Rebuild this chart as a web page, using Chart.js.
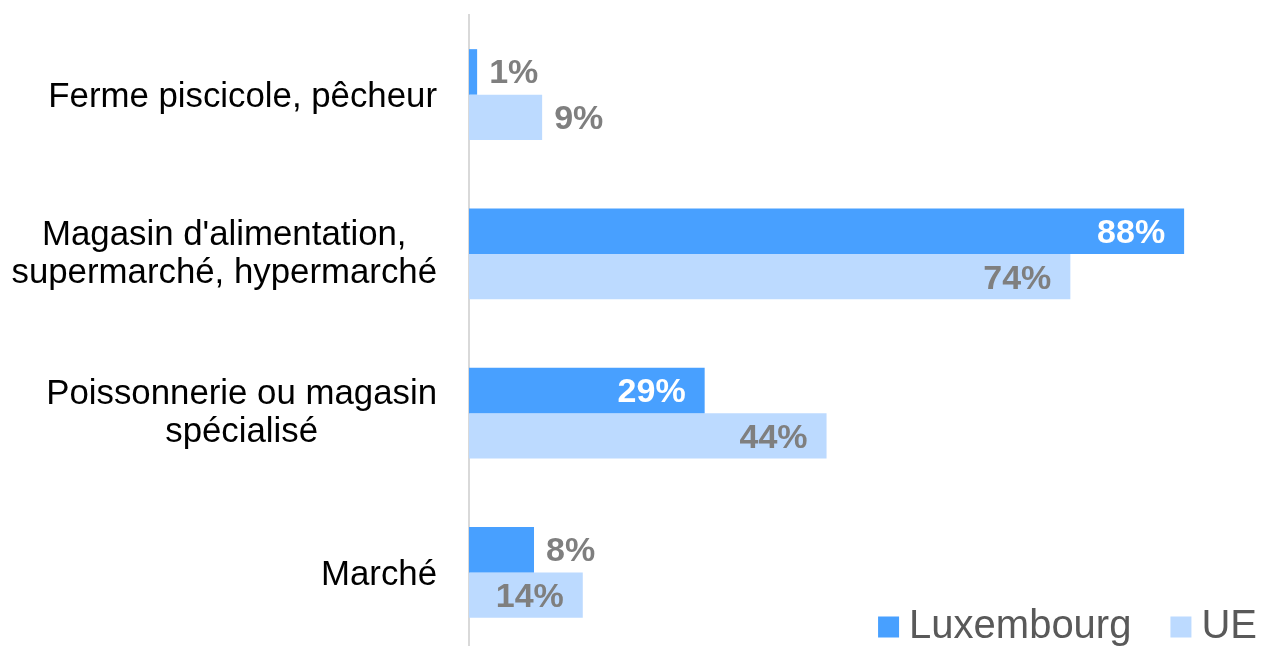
<!DOCTYPE html>
<html>
<head>
<meta charset="utf-8">
<script src="https://cdn.jsdelivr.net/npm/chart.js@4"></script>
<style>
  html, body { margin: 0; padding: 0; overflow: hidden; background: #fff; }
  #wrap { position: relative; width: 1261px; height: 660px; }
</style>
</head>
<body>
<div id="wrap"><canvas id="lieuxChart"></canvas></div>
<script>
/* Data */
const categories = [
    ['Ferme piscicole, pêcheur'],
    ["Magasin d'alimentation,", 'supermarché, hypermarché'],
    ['Poissonnerie ou magasin', 'spécialisé'],
    ['Marché']
];
const seriesNames = ['Luxembourg', 'UE'];
const luxValues = [1, 88, 29, 8];
const ueValues = [9, 74, 44, 14];

const FONT = "'Liberation Sans', Arial, sans-serif";
const BLUE = '#48a0ff';
const LIGHT = '#bcdaff';
const LABEL_GRAY = '#7f7f7f';

// category labels: block right aligned, lines centred inside the block
const categoryLabels = {
    id: 'categoryLabels',
    afterDraw(chart) {
        const ctx = chart.ctx;
        const y = chart.scales.y;
        const right = 437;
        const lineH = 38.3;
        ctx.save();
        ctx.font = '34.8px ' + FONT;
        ctx.fillStyle = '#000';
        ctx.textAlign = 'center';
        ctx.textBaseline = 'alphabetic';
        categories.forEach((lines, i) => {
            const cy = y.getPixelForValue(i);
            const maxW = Math.max(...lines.map(l => ctx.measureText(l).width));
            const cx = right - maxW / 2;
            const n = lines.length;
            const off = n > 1 ? 10 : 12.5;
            lines.forEach((l, j) => {
                ctx.fillText(l, cx, cy + off + (j - (n - 1) / 2) * lineH);
            });
        });
        ctx.restore();
    }
};

// value labels at bar ends, inside when the bar is long enough
const valueLabels = {
    id: 'valueLabels',
    afterDatasetsDraw(chart) {
        const ctx = chart.ctx;
        ctx.save();
        ctx.font = 'bold 34px ' + FONT;
        ctx.textBaseline = 'alphabetic';
        chart.data.datasets.forEach((ds, di) => {
            const meta = chart.getDatasetMeta(di);
            meta.data.forEach((bar, i) => {
                const v = ds.data[i];
                const txt = v + '%';
                const w = ctx.measureText(txt).width;
                const inside = (bar.x - bar.base) > w + 40;
                if (inside) {
                    ctx.textAlign = 'right';
                    ctx.fillStyle = di === 0 ? '#fff' : LABEL_GRAY;
                    ctx.fillText(txt, bar.x - 19, bar.y + 12);
                } else {
                    ctx.textAlign = 'left';
                    ctx.fillStyle = LABEL_GRAY;
                    ctx.fillText(txt, bar.x + 12, bar.y + 11.5);
                }
            });
        });
        ctx.restore();
    }
};

// legend bottom right
const bottomLegend = {
    id: 'bottomLegend',
    afterDraw(chart) {
        const ctx = chart.ctx;
        ctx.save();
        ctx.font = '40px ' + FONT;
        ctx.textBaseline = 'alphabetic';
        ctx.textAlign = 'left';
        const box = 21, gapBox = 10, gapItem = 39;
        const baseline = 637.5;
        let x = 1257;
        const items = chart.data.datasets.map(ds => ({ label: ds.label, color: ds.backgroundColor }));
        for (let k = items.length - 1; k >= 0; k--) {
            const it = items[k];
            const w = ctx.measureText(it.label).width;
            x -= w;
            ctx.fillStyle = '#595959';
            ctx.fillText(it.label, x, baseline);
            x -= gapBox + box;
            ctx.fillStyle = it.color;
            ctx.fillRect(x, baseline - box, box, box);
            x -= gapItem;
        }
        ctx.restore();
    }
};

new Chart(document.getElementById('lieuxChart'), {
    type: 'bar',
    data: {
        labels: categories.map(c => c.join(' ')),
        datasets: [
            {
                label: seriesNames[0],
                data: luxValues,
                backgroundColor: BLUE,
                categoryPercentage: 0.571,
                barPercentage: 1
            },
            {
                label: seriesNames[1],
                data: ueValues,
                backgroundColor: LIGHT,
                categoryPercentage: 0.571,
                barPercentage: 1
            }
        ]
    },
    options: {
        indexAxis: 'y',
        responsive: true,
        maintainAspectRatio: false,
        animation: false,
        layout: { padding: { top: 15, bottom: 8, left: 0, right: 20 } },
        scales: {
            x: {
                display: false,
                min: 0,
                max: 95
            },
            y: {
                grid: { display: false },
                border: { display: true, color: '#d9d9d9', width: 2 },
                ticks: { display: false },
                afterFit(scale) { scale.width = 469; }
            }
        },
        plugins: {
            legend: { display: false },
            tooltip: { enabled: false }
        }
    },
    plugins: [categoryLabels, valueLabels, bottomLegend]
});
</script>
</body>
</html>
